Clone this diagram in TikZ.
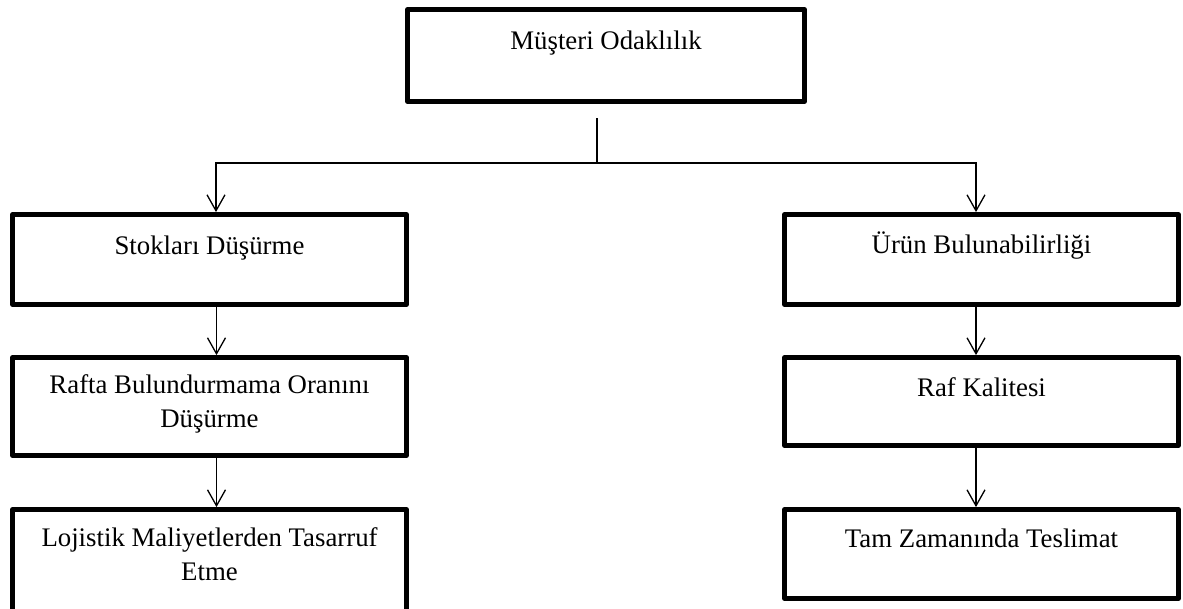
\documentclass[tikz,border=0pt]{standalone}
\usepackage{fontspec}
\setmainfont{Liberation Serif}
\usetikzlibrary{arrows.meta}
\tikzset{
  box/.style={draw, line width=4.8pt, line join=round, rectangle, inner sep=0pt},
  txt/.style={anchor=base, inner sep=0pt, align=center, font=\fontsize{26.8}{34}\selectfont},
  conn/.style={line width=1.3pt},
  arr/.style={line width=1.3pt, -{Straight Barb[length=16pt,width=18pt]}},
}
\begin{document}
\begin{tikzpicture}[x=1pt,y=-1pt]
\useasboundingbox (0,0) rectangle (1183,608);
% boxes
\node[box, minimum width=397pt, minimum height=92pt] (top) at (606,55.5) {};
\node[box, minimum width=394pt, minimum height=90pt] (s1) at (209.5,259.5) {};
\node[box, minimum width=394pt, minimum height=98pt] (s2) at (209.5,406.5) {};
\node[box, minimum width=394pt, minimum height=111pt] (s3) at (209.5,565) {};
\node[box, minimum width=394pt, minimum height=90pt] (r1) at (981.5,259.5) {};
\node[box, minimum width=394pt, minimum height=88pt] (r2) at (981.5,401.5) {};
\node[box, minimum width=394pt, minimum height=89pt] (r3) at (981.5,554) {};
% texts
\node[txt] (ttop) at ([yshift=-42pt]top.north) {Müşteri Odaklılık};
\node[txt] (ts1) at ([yshift=-42pt]s1.north) {Stokları Düşürme};
\node[txt] (ts2) at ([yshift=-72pt]s2.north) {Rafta Bulundurmama Oranını\\Düşürme};
\node[txt] (ts3) at ([yshift=-73pt]s3.north) {Lojistik Maliyetlerden Tasarruf\\Etme};
\node[txt] (tr1) at ([yshift=-41pt]r1.north) {Ürün Bulunabilirliği};
\node[txt] (tr2) at ([yshift=-41pt]r2.north) {Raf Kalitesi};
\node[txt] (tr3) at ([yshift=-40pt]r3.north) {Tam Zamanında Teslimat};
% connectors
\coordinate (trunk) at (597,118);
\coordinate (split) at (597,163);
\draw[conn] (trunk) -- (split);
\draw[arr] (split) -| ([xshift=6.5pt]s1.north);
\draw[arr] (split) -| ([xshift=-5.5pt]r1.north);
\draw[arr] ([xshift=7pt]s1.south) -- ([xshift=7pt]s2.north);
\draw[arr] ([xshift=7pt]s2.south) -- ([xshift=7pt]s3.north);
\draw[arr] ([xshift=-5.5pt]r1.south) -- ([xshift=-5.5pt]r2.north);
\draw[arr] ([xshift=-5.5pt]r2.south) -- ([xshift=-5.5pt]r3.north);
\end{tikzpicture}
\end{document}
